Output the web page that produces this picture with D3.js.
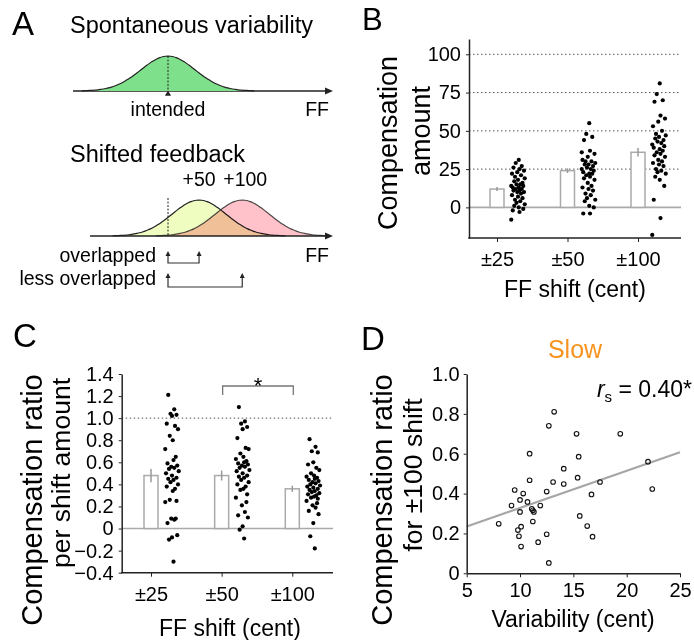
<!DOCTYPE html>
<html>
<head>
<meta charset="utf-8">
<script src="https://cdnjs.cloudflare.com/ajax/libs/d3/7.8.5/d3.min.js"></script>
<style>
  body { margin: 0; background: #fff; }
  svg text { font-family: 'Liberation Sans', Arial, sans-serif; fill: #000; }
</style>
</head>
<body>
<div id="fig"></div>
<script>
// ---- data ----
var shiftLabels = ['±25', '±50', '±100'];
var compMeans = [12, 24, 36];
var compSem = [1.3, 1.5, 2.8];
var comp25 = [31, 29, 27, 26, 25, 24, 23, 22, 21, 20, 19, 18, 17, 16, 15, 15, 14, 14, 13, 13,
              12, 12, 11, 11, 10, 10, 9, 8, 7, 6, 5, 4, 3, 2, 1, 0, -1, -2, -3, -8];
var comp50 = [55, 48, 46, 44, 37, 35, 33, 31, 30, 30, 29, 28, 28, 27, 26, 25, 25, 24, 23, 22,
              22, 21, 20, 19, 18, 16, 14, 13, 12, 11, 9, 8, 6, 5, 4, 1, 0, -4, -4, 36];
var comp100 = [81, 74, 70, 69, 60, 58, 56, 53, 50, 48, 47, 46, 45, 44, 43, 42, 41, 40, 39, 38,
               37, 36, 35, 34, 33, 31, 30, 29, 28, 27, 25, 24, 23, 22, 20, 18, 14, 5, -7, -18];
var ratioMeans = [0.48, 0.48, 0.36];
var ratioSem = [0.06, 0.045, 0.028];
var ratio25 = [1.21, 1.08, 1.04, 1.03, 1.02, 0.95, 0.93, 0.90, 0.84, 0.80, 0.72, 0.65, 0.62, 0.59,
               0.57, 0.56, 0.55, 0.54, 0.52, 0.50, 0.48, 0.46, 0.45, 0.44, 0.42, 0.40, 0.38, 0.36,
               0.34, 0.26, 0.25, 0.24, 0.09, 0.09, 0.08, 0.05, -0.06, -0.08, -0.10, -0.30];
var ratio50 = [1.10, 0.97, 0.95, 0.92, 0.90, 0.82, 0.73, 0.72, 0.68, 0.65, 0.63, 0.61, 0.60, 0.59,
               0.58, 0.57, 0.56, 0.55, 0.53, 0.52, 0.50, 0.48, 0.47, 0.46, 0.44, 0.42, 0.40, 0.38,
               0.36, 0.35, 0.31, 0.28, 0.24, 0.21, 0.15, 0.12, 0.10, 0.02, -0.01, -0.09];
var ratio100 = [0.81, 0.74, 0.70, 0.69, 0.60, 0.58, 0.55, 0.53, 0.50, 0.48, 0.47, 0.46, 0.45, 0.44,
                0.43, 0.42, 0.41, 0.40, 0.39, 0.38, 0.37, 0.36, 0.35, 0.34, 0.33, 0.32, 0.31, 0.30,
                0.29, 0.28, 0.27, 0.25, 0.23, 0.21, 0.19, 0.16, 0.13, 0.05, -0.07, -0.18];
// horizontal scatter of each subject's dot, -1..1
var jitterB = [0.1, -0.3, 0.5, -0.6, 0.2, 0.8, -0.1, -0.8, 0.4, -0.4, 0.9, 0.0, -0.5, 0.6, -0.2, 0.3, -0.9, 0.7, -0.7, 0.1,
               0.5, -0.3, 0.2, -0.6, 0.8, -0.1, 0.4, -0.8, 0.0, 0.6, -0.4, 0.3, -0.2, 0.9, -0.5, 0.1, 0.7, -0.7, 0.2, -0.9];
var jitterC = [-0.5, 0.3, -0.2, 0.6, 0.0, -0.7, 0.4, 0.8, -0.3, 0.1, -0.9, 0.5, 0.2, -0.6, 0.7, -0.1, 0.3, -0.4, 0.9, -0.8,
               0.0, 0.6, -0.5, 0.2, -0.2, 0.8, -0.7, 0.4, 0.1, -0.3, 0.6, -0.9, 0.5, -0.1, 0.3, -0.6, 0.7, 0.0, -0.4, 0.2];
var bTicks = [0, 25, 50, 75, 100];
var bGrid = [25, 50, 75, 100];
var cTicks = [-0.4, -0.2, 0, 0.2, 0.4, 0.6, 0.8, 1.0, 1.2, 1.4];
var variability = [13.2, 12.7, 15.3, 19.4, 10.9, 15.5, 14.1, 22.0, 15.4, 10.9, 13.1, 14.1, 17.5, 22.4, 9.5, 12.5, 10.3, 16.7, 10.0,
                   10.7, 9.2, 11.9, 11.1, 11.2, 10.0, 11.3, 15.6, 8.0, 11.2, 10.1, 16.3, 9.8, 12.5, 16.8, 9.9, 11.7, 10.1, 12.7];
var ratioSlow = [0.81, 0.74, 0.70, 0.70, 0.60, 0.585, 0.525, 0.56, 0.48, 0.467, 0.458, 0.448, 0.458, 0.423, 0.418, 0.41, 0.40, 0.396, 0.368,
                 0.358, 0.34, 0.34, 0.324, 0.316, 0.308, 0.308, 0.288, 0.248, 0.26, 0.234, 0.237, 0.217, 0.196, 0.184, 0.186, 0.156, 0.134, 0.052];
var fitX = [5, 25];
var fitY = [0.235, 0.607];
var dTicksX = [5, 10, 15, 20, 25];
var dTicksY = [0, 0.2, 0.4, 0.6, 0.8, 1.0];
var shiftNames = ['+50', '+100'];
var shiftCenters = [1.15, 2.75];   // in units of the spread (sd)

var W = 694, H = 640;
var svg = d3.select('#fig').append('svg').attr('width', W).attr('height', H);

function panelLetter(t, x, y, size) {
    svg.append('text').attr('x', x).attr('y', y).style('font-size', (size || 33) + 'px').text(t);
}
function gauss(z) { return Math.exp(-z * z / 2); }

// ===== A =====
function drawA() {
    panelLetter('A', 12, 35);
    var xa = d3.scaleLinear().domain([0, 1]).range([168, 195]);
    var zs = d3.range(-3.2, 3.21, 0.1);
    svg.append('text').attr('x', 70).attr('y', 33).style('font-size', '23.5px').text('Spontaneous variability');

    function axisArrow(y, x0) {
        svg.append('line').attr('x1', x0).attr('x2', 328).attr('y1', y).attr('y2', y)
            .attr('stroke', '#222').attr('stroke-width', 1.3);
        svg.append('path').attr('d', 'M333,' + y + 'L325,' + (y - 3.5) + 'L325,' + (y + 3.5) + 'Z').attr('fill', '#222');
    }
    function curve(base, h, mu, fill, blend) {
        var ya = d3.scaleLinear().domain([0, 1]).range([base, base - h]);
        var area = d3.area().x(function (z) { return xa(mu + z); })
            .y0(base).y1(function (z) { return ya(gauss(z)); }).curve(d3.curveBasis);
        var line = d3.line().x(function (z) { return xa(mu + z); })
            .y(function (z) { return ya(gauss(z)); }).curve(d3.curveBasis);
        var p = svg.append('path').attr('d', area(zs)).attr('fill', fill);
        if (blend) p.style('mix-blend-mode', 'multiply');
        svg.append('path').attr('d', line(zs)).attr('fill', 'none').attr('stroke', '#222')
            .attr('stroke-width', 1.2).attr('stroke-opacity', blend ? 0.8 : 1);
    }
    // top: spontaneous
    axisArrow(91, 73);
    curve(91, 35, 0, '#7fe08b', false);
    svg.append('line').attr('x1', xa(0)).attr('x2', xa(0)).attr('y1', 56).attr('y2', 91)
        .attr('stroke', '#222').attr('stroke-dasharray', '2,1.5');
    svg.append('path').attr('d', d3.symbol().type(d3.symbolTriangle).size(16)())
        .attr('transform', 'translate(' + xa(0) + ',94)').attr('fill', '#222');
    svg.append('text').attr('x', xa(0)).attr('y', 116).attr('text-anchor', 'middle').style('font-size', '19.5px').text('intended');
    svg.append('text').attr('x', 329).attr('y', 116).attr('text-anchor', 'end').style('font-size', '19.5px').text('FF');

    // bottom: shifted
    svg.append('text').attr('x', 70).attr('y', 162).style('font-size', '23.5px').text('Shifted feedback');
    curve(236, 36, shiftCenters[0], '#f0fdc0', false);
    curve(236, 36, shiftCenters[1], '#ffc2ca', true);
    axisArrow(236, 90);
    svg.append('line').attr('x1', xa(0)).attr('x2', xa(0)).attr('y1', 198).attr('y2', 236)
        .attr('stroke', '#222').attr('stroke-dasharray', '2,1.5');
    svg.selectAll('.shiftlab').data(shiftNames).enter().append('text')
        .attr('x', function (d, i) { return xa(shiftCenters[i]) + (i ? 3 : 0); })
        .attr('y', 186).attr('text-anchor', 'middle').style('font-size', '19.5px').text(function (d) { return d; });
    svg.append('text').attr('x', 329).attr('y', 262).attr('text-anchor', 'end').style('font-size', '19.5px').text('FF');

    var brackets = [{ label: 'overlapped', to: shiftCenters[0], top: 251, bot: 263, ty: 262 },
                    { label: 'less overlapped', to: shiftCenters[1], top: 273, bot: 287, ty: 285 }];
    brackets.forEach(function (b) {
        var x0 = xa(0), x1 = xa(b.to);
        svg.append('path').attr('d', 'M' + x0 + ',' + (b.top + 3) + 'V' + b.bot + 'H' + x1 + 'V' + (b.top + 3))
            .attr('fill', 'none').attr('stroke', '#333').attr('stroke-width', 1.2);
        [x0, x1].forEach(function (x) {
            svg.append('path').attr('d', 'M' + x + ',' + b.top + 'L' + (x - 2.5) + ',' + (b.top + 5) + 'L' + (x + 2.5) + ',' + (b.top + 5) + 'Z')
                .attr('fill', '#222');
        });
        svg.append('text').attr('x', 156).attr('y', b.ty).attr('text-anchor', 'end').style('font-size', '19.5px').text(b.label);
    });
}

// shared bar + dots panel
function barDotPanel(opt) {
    var g = svg.append('g');
    var x = d3.scalePoint().domain(shiftLabels).range(opt.xr);
    var y = d3.scaleLinear().domain(opt.yd).range(opt.yr);
    var left = opt.axisX, right = opt.rightX;
    // grid
    g.selectAll('.grid').data(opt.grid).enter().append('line')
        .attr('x1', left).attr('x2', right).attr('y1', function (d) { return y(d); }).attr('y2', function (d) { return y(d); })
        .attr('stroke', '#555').attr('stroke-width', 1).attr('stroke-dasharray', '1.5,2.5');
    g.append('line').attr('x1', left).attr('x2', right).attr('y1', y(0)).attr('y2', y(0))
        .attr('stroke', '#aaa').attr('stroke-width', 1.6);
    // bars
    g.selectAll('.bar').data(opt.means).enter().append('rect')
        .attr('x', function (d, i) { return x(shiftLabels[i]) - 7; })
        .attr('y', function (d) { return y(d); })
        .attr('width', 14).attr('height', function (d) { return y(0) - y(d); })
        .attr('fill', '#fff').attr('stroke', '#aaa').attr('stroke-width', 1.5);
    g.selectAll('.err').data(opt.means).enter().append('line')
        .attr('x1', function (d, i) { return x(shiftLabels[i]); })
        .attr('x2', function (d, i) { return x(shiftLabels[i]); })
        .attr('y1', function (d, i) { return y(d - opt.sem[i]); })
        .attr('y2', function (d, i) { return y(d + opt.sem[i]); })
        .attr('stroke', '#999').attr('stroke-width', 1.5);
    // dots
    opt.groups.forEach(function (vals, gi) {
        g.selectAll('.dot' + gi).data(vals).enter().append('circle')
            .attr('cx', function (d, i) { return x(shiftLabels[gi]) + opt.dotOff + opt.jit[i] * 7.5; })
            .attr('cy', function (d) { return y(d); })
            .attr('r', 2.1).attr('fill', '#000');
    });
    // axes
    var ya = d3.axisLeft(y).tickValues(opt.ticks).tickSize(3).tickSizeOuter(0).tickPadding(5).tickFormat(opt.fmt);
    var yg = g.append('g').attr('transform', 'translate(' + left + ',0)').call(ya);
    yg.select('.domain').attr('stroke', '#222').attr('stroke-width', 1.5);
    yg.selectAll('.tick line').attr('stroke', '#222');
    yg.selectAll('text').style('font-size', '20px').style('font-family', null);
    var xa = d3.axisBottom(x).tickSize(4).tickPadding(10);
    var xg = g.append('g').attr('transform', 'translate(0,' + opt.yr[0] + ')').call(xa);
    xg.select('.domain').remove();
    xg.selectAll('.tick line').attr('stroke', '#222');
    xg.selectAll('text').style('font-size', '20px').style('font-family', null);
    g.append('line').attr('x1', left - 0.75).attr('x2', right).attr('y1', opt.yr[0]).attr('y2', opt.yr[0])
        .attr('stroke', '#222').attr('stroke-width', 1.5);
    g.append('text').attr('x', opt.titleX).attr('y', opt.titleY).attr('text-anchor', 'middle')
        .style('font-size', '23px').text('FF shift (cent)');
    opt.ylab.forEach(function (l) {
        g.append('text').attr('transform', 'translate(' + l.x + ',' + l.y + ') rotate(-90)')
            .attr('text-anchor', 'middle').style('font-size', l.size + 'px').text(l.t);
    });
    return { x: x, y: y, g: g };
}

// ===== B =====
function drawB() {
    panelLetter('B', 362, 30, 31);
    barDotPanel({
        xr: [497, 638], yd: [-20, 110], yr: [238, 39], axisX: 469, rightX: 681,
        grid: bGrid, ticks: bTicks, fmt: d3.format('d'),
        means: compMeans, sem: compSem, groups: [comp25, comp50, comp100], jit: jitterB, dotOff: 21,
        titleX: 575, titleY: 297,
        ylab: [{ t: 'Compensation', x: 397, y: 143, size: 27 }, { t: 'amount', x: 430, y: 131, size: 27 }]
    });
}

// ===== C =====
function drawC() {
    panelLetter('C', 13, 347);
    var p = barDotPanel({
        xr: [151, 292.3], yd: [-0.4, 1.4], yr: [572.7, 374], axisX: 121.7, rightX: 333,
        grid: [1.0], ticks: cTicks, fmt: function (d) { return d === 0 ? '0' : d3.format('.1f')(d); },
        means: ratioMeans, sem: ratioSem, groups: [ratio25, ratio50, ratio100], jit: jitterC, dotOff: 21,
        titleX: 230, titleY: 636,
        ylab: [{ t: 'Compensation ratio', x: 42, y: 500, size: 29 }, { t: 'per shift amount', x: 70, y: 473, size: 26.5 }]
    });
    // significance bracket between ±50 and ±100
    var xb0 = p.x('±50') + 1, xb1 = p.x('±100') + 1;
    p.g.append('path').attr('d', 'M' + xb0 + ',395V386H' + xb1 + 'V395')
        .attr('fill', 'none').attr('stroke', '#777').attr('stroke-width', 1.3);
    p.g.append('text').attr('x', (xb0 + xb1) / 2).attr('y', 393).attr('text-anchor', 'middle')
        .style('font-size', '22px').text('*');
}

// ===== D =====
function drawD() {
    panelLetter('D', 361, 350);
    var x = d3.scaleLinear().domain([5, 25]).range([466.7, 680]);
    var y = d3.scaleLinear().domain([0, 1]).range([573.3, 374]);
    var g = svg.append('g');
    g.append('line').attr('x1', x(fitX[0])).attr('x2', x(fitX[1])).attr('y1', y(fitY[0])).attr('y2', y(fitY[1]))
        .attr('stroke', '#a6a6a6').attr('stroke-width', 2.2);
    g.selectAll('.pt').data(variability).enter().append('circle')
        .attr('cx', function (d) { return x(d); })
        .attr('cy', function (d, i) { return y(ratioSlow[i]); })
        .attr('r', 2.3).attr('fill', 'none').attr('stroke', '#111').attr('stroke-width', 1.1);
    var ya = d3.axisLeft(y).tickValues(dTicksY).tickSize(3).tickSizeOuter(0).tickPadding(4)
        .tickFormat(function (d) { return d === 0 ? '0' : d3.format('.1f')(d); });
    var yg = g.append('g').attr('transform', 'translate(' + x(5) + ',0)').call(ya);
    var xa = d3.axisBottom(x).tickValues(dTicksX).tickSize(4).tickSizeOuter(0).tickPadding(6);
    var xg = g.append('g').attr('transform', 'translate(0,' + y(0) + ')').call(xa);
    [yg, xg].forEach(function (a) {
        a.select('.domain').attr('stroke', '#222').attr('stroke-width', 1.5);
        a.selectAll('.tick line').attr('stroke', '#222');
        a.selectAll('text').style('font-size', '20px').style('font-family', null);
    });
    g.append('text').attr('x', 573).attr('y', 627).attr('text-anchor', 'middle').style('font-size', '23px').text('Variability (cent)');
    g.append('text').attr('transform', 'translate(392,500) rotate(-90)').attr('text-anchor', 'middle')
        .style('font-size', '29px').text('Compensation ratio');
    g.append('text').attr('transform', 'translate(422,475) rotate(-90)').attr('text-anchor', 'middle')
        .style('font-size', '26.5px').text('for ±100 shift');
    g.append('text').attr('x', 575).attr('y', 358).attr('text-anchor', 'middle')
        .style('font-size', '25px').style('fill', '#f7931e').text('Slow');
    var r = g.append('text').attr('x', 692).attr('y', 397).attr('text-anchor', 'end').style('font-size', '23px');
    r.append('tspan').style('font-style', 'italic').text('r');
    r.append('tspan').attr('dy', 5).style('font-size', '15px').text('s');
    r.append('tspan').attr('dy', -5).text(' = 0.40*');
}

drawA();
drawB();
drawC();
drawD();
</script>
</body>
</html>
